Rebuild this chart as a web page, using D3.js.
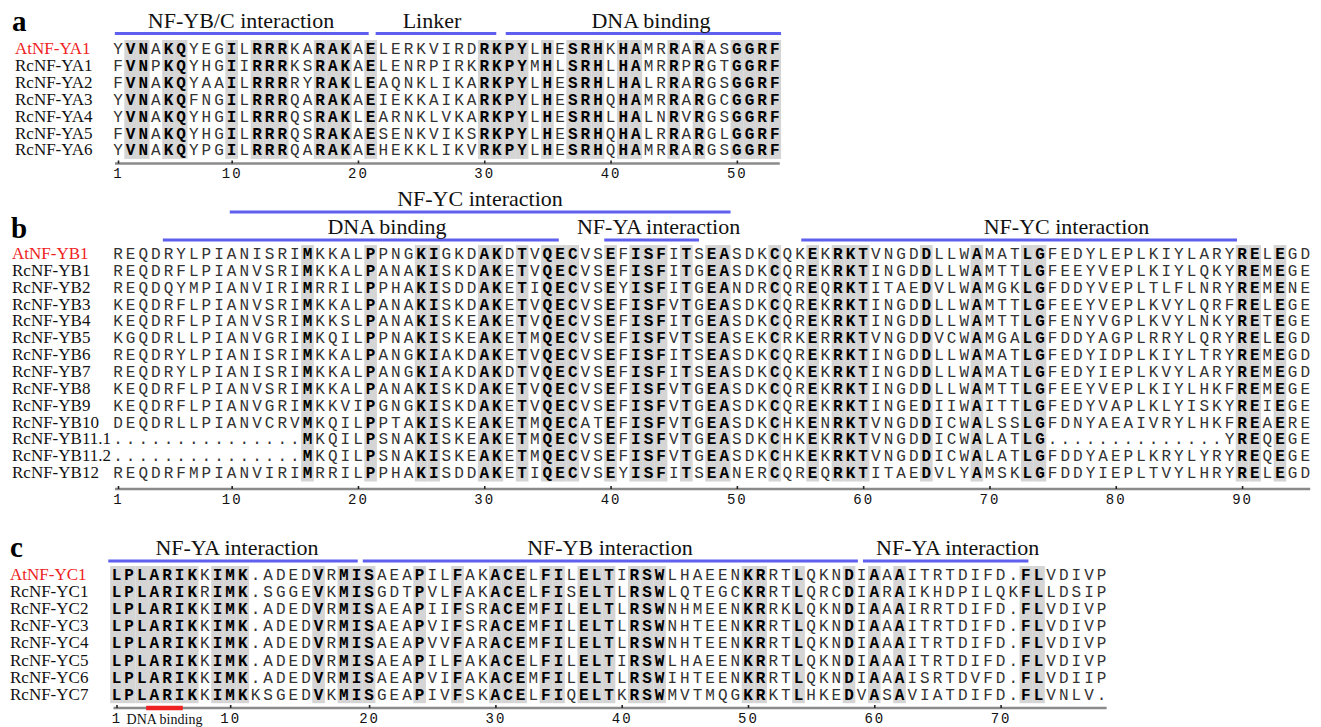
<!DOCTYPE html>
<html>
<head>
<meta charset="utf-8">
<script src="https://cdn.jsdelivr.net/npm/d3@7"></script>
<style>
  body { margin: 0; background: #fff; }
</style>
</head>
<body>
<div id="chart"></div>
<script>
// ---- panel a : NF-YA ----
const yaNames = ["AtNF-YA1", "RcNF-YA1", "RcNF-YA2", "RcNF-YA3", "RcNF-YA4", "RcNF-YA5", "RcNF-YA6"];
const yaSeqs = [
  "YVNAKQYEGILRRRKARAKAELERKVIRDRKPYLHESRHKHAMRRARASGGRF",
  "FVNPKQYHGIIRRRKSRAKAELENRPIRKRKPYMHLSRHLHAMRRPRGTGGRF",
  "FVNAKQYAAILRRRRYRAKLEAQNKLIKARKPYLHESRHLHALRRARGSGGRF",
  "YVNAKQFNGILRRRQARAKAEIEKKAIKARKPYLHESRHQHAMRRARGCGGRF",
  "YVNAKQYHGILRRRQSRAKLEARNKLVKARKPYLHESRHLHALNRVRGSGGRF",
  "FVNAKQYHGILRRRQSRAKAESENKVIKSRKPYLHESRHQHALRRARGLGGRF",
  "YVNAKQYPGILRRRQARAKAEHEKKLIKVRKPYLHESRHQHAMRRARGSGGRF"
];
const yaShaded = [2, 3, 5, 6, 10, 12, 13, 14, 17, 18, 19, 21, 30, 31, 32, 33, 35, 37, 38, 39, 41, 42, 45, 47, 50, 51, 52, 53];
const yaDomains = [
  { label: "NF-YB/C interaction", from: 0.75, to: 20.85, mid: 10.74, tier: 0 },
  { label: "Linker", from: 21.4, to: 30.95, mid: 25.86, tier: 0 },
  { label: "DNA binding", from: 31.7, to: 53.5, mid: 43.2, tier: 0 }
];
const yaTicks = [1, 10, 20, 30, 40, 50];

// ---- panel b : NF-YB ----
const ybNames = ["AtNF-YB1", "RcNF-YB1", "RcNF-YB2", "RcNF-YB3", "RcNF-YB4", "RcNF-YB5", "RcNF-YB6",
  "RcNF-YB7", "RcNF-YB8", "RcNF-YB9", "RcNF-YB10", "RcNF-YB11.1", "RcNF-YB11.2", "RcNF-YB12"];
const ybSeqs = [
  "REQDRYLPIANISRIMKKALPPNGKIGKDAKDTVQECVSEFISFITSEASDKCQKEKRKTVNGDDLLWAMATLGFEDYLEPLKIYLARYRELEGD",
  "REQDRFLPIANVSRIMKKALPANAKISKDAKETVQECVSEFISFITGEASDKCQREKRKTINGDDLLWAMTTLGFEEYVEPLKIYLQKYREMEGE",
  "REQDQYMPIANVIRIMRRILPPHAKISDDAKETIQECVSEYISFITGEANDRCQREQRKTITAEDVLWAMGKLGFDDYVEPLTLFLNRYREMENE",
  "KEQDRFLPIANVSRIMKKALPANAKISKDAKETVQECVSEFISFVTGEASDKCQREKRKTINGDDLLWAMTTLGFEEYVEPLKVYLQRFRELEGE",
  "KEQDRFLPIANVSRIMKKSLPANAKISKEAKETVQECVSEFISFITGEASDKCQREKRKTINGDDLLWAMTTLGFENYVGPLKVYLNKYRETEGE",
  "KGQDRLLPIANVGRIMKQILPPNAKISKEAKETMQECVSEFISFVTSEASEKCRKERRKTVNGDDVCWAMGALGFDDYAGPLRRYLQRYRELEGD",
  "REQDRYLPIANISRIMKKALPANGKIAKDAKETVQECVSEFISFITSEASDKCQREKRKTINGDDLLWAMATLGFEDYIDPLKIYLTRYREMEGD",
  "REQDRYLPIANISRIMKKALPANGKIAKDAKDTVQECVSEFISFITSEASDKCQKEKRKTINGDDLLWAMATLGFEDYIEPLKVYLARYREMEGD",
  "KEQDRFLPIANVSRIMKKALPANAKISKDAKETVQECVSEFISFVTGEASDKCQREKRKTINGDDLLWAMTTLGFEEYVEPLKIYLHKFREMEGE",
  "KEQDRFLPIANVGRIMKKVIPGNGKISKDAKETVQECVSEFISFVTGEASDKCQREKRKTINGEDIIWAITTLGFEDYVAPLKLYISKYREIEGE",
  "DEQDRLLPIANVCRVMKQILPPTAKISKEAKETMQECATEFISFVTGEASDKCHKENRKTVNGDDICWALSSLGFDNYAEAIVRYLHKFREAERE",
  "...............MKQILPSNAKISKEAKETMQECVSEFISFVTGEASDKCHKEKRKTVNGDDICWALATLG..............YREQEGE",
  "...............MKQILPSNAKISKEAKETMQECVSEFISFVTGEASDKCHKEKRKTVNGDDICWALATLGFDDYAEPLKRYLYRYREQEGE",
  "REQDRFMPIANVIRIMRRILPPHAKISDDAKETIQECVSEYISFITSEANERCQREQRKTITAEDVLYAMSKLGFDDYIEPLTVYLHRYRELEGD"
];
const ybShaded = [16, 21, 25, 26, 30, 31, 33, 35, 36, 37, 40, 42, 43, 44, 46, 48, 49, 53, 56, 58, 59, 60,
  65, 69, 73, 74, 90, 91, 93];
const ybDomains = [
  { label: "NF-YC interaction", from: 9.85, to: 49.5, mid: 29.66, tier: 0 },
  { label: "DNA binding", from: 4.55, to: 35.9, mid: 22.3, tier: 1 },
  { label: "NF-YA interaction", from: 39.5, to: 47.0, mid: 43.8, tier: 1 },
  { label: "NF-YC interaction", from: 55.1, to: 89.6, mid: 76.1, tier: 1 }
];
const ybTicks = [1, 10, 20, 30, 40, 50, 60, 70, 80, 90];

// ---- panel c : NF-YC ----
const ycNames = ["AtNF-YC1", "RcNF-YC1", "RcNF-YC2", "RcNF-YC3", "RcNF-YC4", "RcNF-YC5", "RcNF-YC6", "RcNF-YC7"];
const ycSeqs = [
  "LPLARIKKIMK.ADEDVRMISAEAPILFAKACELFILELTIRSWLHAEENKRRTLQKNDIAAAITRTDIFD.FLVDIVP",
  "LPLARIKRIMK.SGGEVKMISGDTPVLFAKACELFISELTLRSWLQTEGCKRRTLQRCDIARAIKHDPILQKFLLDSIP",
  "LPLARIKKIMK.ADEDVRMISAEAPIIFSRACEMFILELTLRSWNHMEENKRRKLQKNDIAAAIRRTDIFD.FLVDIVP",
  "LPLARIKKIMK.ADEDVRMISAEAPVIFSRACEMFILELTLRSWNHTEENKRRTLQKNDIAAAITRTDIFD.FLVDIVP",
  "LPLARIKKIMK.ADEDVRMISAEAPVVFARACEMFILELTLRSWNHTEENKRRTLQKNDIAAAITRTDIFD.FLVDIVP",
  "LPLARIKKIMK.ADEDVRMISAEAPILFAKACELFILELTIRSWLHAEENKRRTLQKNDIAAAITRTDIFD.FLVDIVP",
  "LPLARIKKIMK.ADEDVRMISAEAPVIFAKACEMFILELTLRSWIHTEENKRRTLQKNDIAAAISRTDVFD.FLVDIIP",
  "LPLARIKKIMKKSGEDVKMISGEAPIVFSKACELFIQELTKRSWMVTMQGKRKTLHKEDVASAVIATDIFD.FLVNLV."
];
const ycShaded = [1, 2, 3, 4, 5, 6, 7, 9, 10, 11, 17, 19, 20, 21, 25, 28, 31, 32, 33, 35, 36, 38, 39, 40,
  42, 43, 44, 51, 52, 55, 59, 61, 63, 73, 74];
const ycDomains = [
  { label: "NF-YA interaction", from: 0.35, to: 20.1, mid: 10.54, tier: 0 },
  { label: "NF-YB interaction", from: 20.5, to: 59.7, mid: 40.07, tier: 0 },
  { label: "NF-YA interaction", from: 60.1, to: 73.2, mid: 67.6, tier: 0 }
];
const ycMotifs = [{ label: "DNA binding", from: 3.35, to: 6.25 }];
const ycTicks = [1, 10, 20, 30, 40, 50, 60, 70];

const SERIF = "'Liberation Serif', 'Times New Roman', serif";
const MONO = "'Liberation Mono', 'Courier New', monospace";
const BLUE = "#5f5ff0";
const RED = "#ee2222";
const STEP = 12.63;

const svg = d3.select("#chart")
  .append("svg")
  .attr("width", 1321)
  .attr("height", 727)
  .style("background", "#fff");

function drawPanel(cfg) {
  const n = cfg.seqs[0].length;
  const x = d3.scaleLinear()
    .domain([1, n])
    .range([cfg.x0, cfg.x0 + (n - 1) * STEP]);
  const y = d3.scalePoint()
    .domain(cfg.names)
    .range([cfg.base0, cfg.base0 + (cfg.names.length - 1) * cfg.rowStep]);

  const g = svg.append("g");

  // panel letter
  g.append("text")
    .attr("x", cfg.tag[0])
    .attr("y", cfg.tag[1])
    .attr("font-family", SERIF)
    .attr("font-size", 29)
    .attr("font-weight", "bold")
    .attr("fill", "#000")
    .text(cfg.letter);

  // domain bars + titles
  cfg.domains.forEach(d => {
    const ly = cfg.tierY[d.tier];
    g.append("line")
      .attr("x1", x(d.from))
      .attr("x2", x(d.to))
      .attr("y1", ly)
      .attr("y2", ly)
      .attr("stroke", BLUE)
      .attr("stroke-width", 3);
    g.append("text")
      .attr("x", x(d.mid))
      .attr("y", ly - 6)
      .attr("text-anchor", "middle")
      .attr("font-family", SERIF)
      .attr("font-size", 22)
      .attr("fill", "#111")
      .text(d.label);
  });

  // conserved column shading
  const top = cfg.base0 - 14;
  const bottom = y(cfg.names[cfg.names.length - 1]) + 3.5;
  g.selectAll("rect.shade")
    .data(cfg.shaded)
    .join("rect")
    .attr("class", "shade")
    .attr("x", c => x(c) - STEP / 2)
    .attr("y", top)
    .attr("width", STEP)
    .attr("height", bottom - top)
    .attr("fill", "#d5d5d5");

  // row names
  g.selectAll("text.name")
    .data(cfg.names)
    .join("text")
    .attr("class", "name")
    .attr("x", cfg.labelX)
    .attr("y", d => y(d))
    .attr("font-family", SERIF)
    .attr("font-size", 17)
    .attr("fill", (d, i) => i === 0 ? RED : "#111")
    .text(d => d);

  // residues
  const shadedSet = new Set(cfg.shaded);
  const cells = [];
  cfg.seqs.forEach((s, r) => {
    s.split("").forEach((ch, i) => cells.push({ name: cfg.names[r], c: i + 1, ch }));
  });
  g.selectAll("text.res")
    .data(cells)
    .join("text")
    .attr("class", "res")
    .attr("x", d => x(d.c))
    .attr("y", d => y(d.name))
    .attr("text-anchor", "middle")
    .attr("font-family", MONO)
    .attr("font-size", 16)
    .attr("font-weight", d => shadedSet.has(d.c) && d.ch !== "." ? "bold" : "normal")
    .attr("fill", d => shadedSet.has(d.c) && d.ch !== "." ? "#000" : "#333")
    .text(d => d.ch);

  // axis numbered by the reference (first) sequence, skipping gaps
  const resCol = [];
  let k = 0;
  cfg.seqs[0].split("").forEach((ch, i) => {
    if (ch !== ".") { k++; resCol[k] = i + 1; }
  });
  const labelOf = new Map(cfg.ticks.map(t => [resCol[t], t]));

  g.append("line")
    .attr("x1", x(1) - 3)
    .attr("x2", x(n) + 5)
    .attr("y1", cfg.axisY)
    .attr("y2", cfg.axisY)
    .attr("stroke", "#8a8a8a")
    .attr("stroke-width", 2.5);

  (cfg.motifs || []).forEach(m => {
    g.append("line")
      .attr("x1", x(m.from))
      .attr("x2", x(m.to))
      .attr("y1", cfg.axisY)
      .attr("y2", cfg.axisY)
      .attr("stroke", RED)
      .attr("stroke-width", 4.5);
    g.append("text")
      .attr("x", x((m.from + m.to) / 2))
      .attr("y", cfg.axisY + 16)
      .attr("text-anchor", "middle")
      .attr("font-family", SERIF)
      .attr("font-size", 14)
      .attr("fill", "#111")
      .text(m.label);
  });

  const axis = d3.axisBottom(x)
    .tickValues(cfg.ticks.map(t => resCol[t]))
    .tickFormat(c => labelOf.get(c))
    .tickSizeInner(-3)
    .tickSizeOuter(0)
    .tickPadding(5);

  const ag = g.append("g")
    .attr("transform", `translate(0,${cfg.axisY})`)
    .call(axis);
  ag.select(".domain").remove();
  ag.selectAll(".tick line")
    .attr("stroke", "#222")
    .attr("stroke-width", 1.6);
  ag.selectAll(".tick text")
    .attr("font-family", MONO)
    .attr("font-size", 14)
    .attr("letter-spacing", 2)
    .attr("fill", "#111");
}

drawPanel({
  letter: "a", tag: [12, 31], names: yaNames, seqs: yaSeqs, shaded: yaShaded,
  domains: yaDomains, ticks: yaTicks, x0: 118, base0: 54, rowStep: 16.9,
  tierY: [33.5], axisY: 163.5, labelX: 15
});

drawPanel({
  letter: "b", tag: [11, 238], names: ybNames, seqs: ybSeqs, shaded: ybShaded,
  domains: ybDomains, ticks: ybTicks, x0: 118, base0: 259, rowStep: 16.85,
  tierY: [212, 240], axisY: 489, labelX: 12
});

drawPanel({
  letter: "c", tag: [10, 557], names: ycNames, seqs: ycSeqs, shaded: ycShaded,
  domains: ycDomains, motifs: ycMotifs, ticks: ycTicks, x0: 116.5, base0: 580, rowStep: 17.1,
  tierY: [561], axisY: 708, labelX: 10
});
</script>
</body>
</html>
